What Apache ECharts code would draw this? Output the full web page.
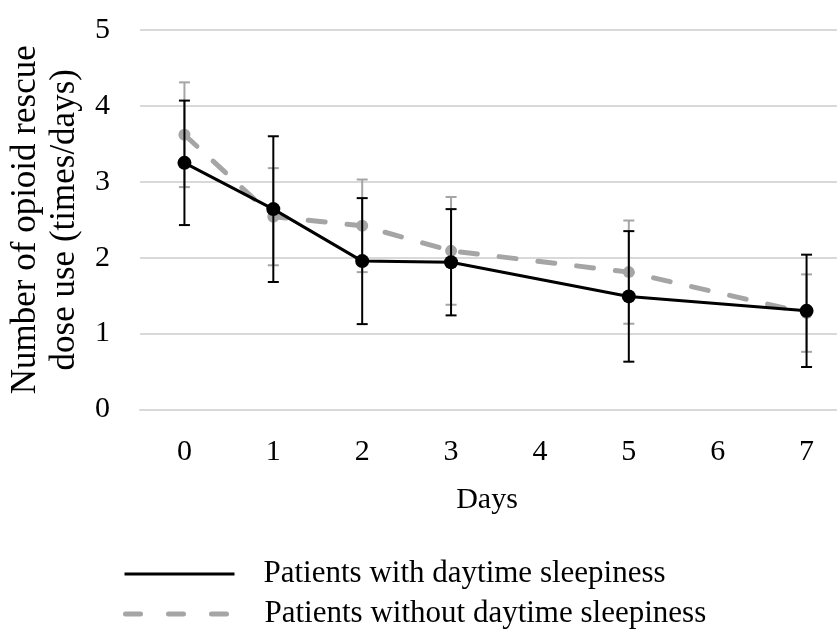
<!DOCTYPE html>
<html>
<head>
<meta charset="utf-8">
<script src="https://cdn.jsdelivr.net/npm/echarts@6/dist/echarts.min.js"></script>
<style>
  html, body { margin: 0; padding: 0; background: #fff; }
  #chart { width: 837px; height: 630px; }
</style>
</head>
<body>
<div id="chart"></div>
<script>
// Days on the x axis (4 and 6 have no measurement)
const days = ['0', '1', '2', '3', '4', '5', '6', '7'];
const yTicks = [0, 1, 2, 3, 4, 5];

// Mean rescue-dose use per day and its error (SD) for each group
const withSleepDays = [0, 1, 2, 3, 5, 7];
const withSleepMean = [3.25, 2.64, 1.955, 1.94, 1.49, 1.30];
const withSleepErr  = [0.82, 0.96, 0.83, 0.70, 0.86, 0.74];

const withoutSleepDays = [0, 1, 2, 3, 5, 7];
const withoutSleepMean = [3.62, 2.54, 2.42, 2.09, 1.81, 1.27];
const withoutSleepErr  = [0.69, 0.64, 0.61, 0.71, 0.68, 0.51];

const nameWith = 'Patients with daytime sleepiness';
const nameWithout = 'Patients without daytime sleepiness';

const FONT = '"Liberation Serif", "Times New Roman", serif';
const GRID = '#d9d9d9';
const BLACK = '#000000';
const GREY = '#a5a5a5';

function lineData(dayList, means) {
  const out = days.map(() => null);
  dayList.forEach((d, i) => { out[days.indexOf(String(d))] = means[i]; });
  return out;
}
function errData(dayList, means, errs) {
  return dayList.map((d, i) => [days.indexOf(String(d)), means[i] - errs[i], means[i] + errs[i]]);
}
function errRenderer(color, width, cap) {
  return function (params, api) {
    const x = api.value(0);
    const lo = api.coord([x, api.value(1)]);
    const hi = api.coord([x, api.value(2)]);
    const h = cap / 2;
    const style = { stroke: color, lineWidth: width };
    return {
      type: 'group',
      children: [
        { type: 'line', shape: { x1: lo[0], y1: lo[1], x2: hi[0], y2: hi[1] }, style },
        { type: 'line', shape: { x1: lo[0] - h, y1: lo[1], x2: lo[0] + h, y2: lo[1] }, style },
        { type: 'line', shape: { x1: hi[0] - h, y1: hi[1], x2: hi[0] + h, y2: hi[1] }, style }
      ]
    };
  };
}

const legendText = { fontFamily: FONT, fontSize: 31, color: '#000', lineHeight: 34, padding: [0, 0, 0, 24] };
function legendFor(name, top, lineStyle) {
  return {
    left: 118,
    top: top,
    itemWidth: 110,
    itemHeight: 20,
    data: [name],
    selectedMode: false,
    itemStyle: { opacity: 0 },
    lineStyle: lineStyle,
    textStyle: legendText
  };
}

const chart = echarts.init(document.getElementById('chart'), null, { renderer: 'canvas' });
chart.setOption({
  backgroundColor: '#fff',
  animation: false,
  textStyle: { fontFamily: FONT, color: '#000' },
  title: {
    text: 'Days',
    left: 482,
    top: 480,
    textAlign: 'center',
    textStyle: { fontFamily: FONT, fontSize: 30, fontWeight: 'normal', color: '#000' }
  },
  legend: [
    legendFor(nameWith, 552, { color: BLACK, width: 3, type: 'solid' }),
    legendFor(nameWithout, 592, { color: GREY, width: 5, type: [15, 28], cap: 'round' })
  ],
  grid: { left: 140, top: 30, width: 711, height: 379.5, outerBoundsMode: 'none', containLabel: false },
  xAxis: {
    type: 'category',
    data: days,
    boundaryGap: true,
    axisLine: { show: true, lineStyle: { color: GRID, width: 2 } },
    axisTick: { show: false },
    axisLabel: { fontFamily: FONT, fontSize: 30, color: '#000', margin: 28 },
    splitLine: { show: false }
  },
  yAxis: {
    type: 'value',
    min: yTicks[0],
    max: yTicks[yTicks.length - 1],
    interval: 1,
    name: 'Number of opioid rescue\ndose use (times/days)',
    nameLocation: 'middle',
    nameGap: 50,
    nameTextStyle: { fontFamily: FONT, fontSize: 35, color: '#000', lineHeight: 39 },
    axisLine: { show: false },
    axisTick: { show: false },
    axisLabel: { fontFamily: FONT, fontSize: 30, color: '#000', margin: 30 },
    splitLine: { lineStyle: { color: GRID, width: 2 } }
  },
  series: [
    {
      name: 'err-without',
      type: 'custom',
      renderItem: errRenderer(GREY, 2, 11),
      data: errData(withoutSleepDays, withoutSleepMean, withoutSleepErr),
      encode: { x: 0, y: [1, 2] },
      z: 1,
      silent: true
    },
    {
      name: nameWithout,
      type: 'line',
      data: lineData(withoutSleepDays, withoutSleepMean),
      connectNulls: true,
      symbol: 'circle',
      symbolSize: 12,
      itemStyle: { color: GREY },
      lineStyle: { color: GREY, width: 5, type: [17, 22], cap: 'round' },
      z: 2
    },
    {
      name: 'err-with',
      type: 'custom',
      renderItem: errRenderer(BLACK, 2, 11),
      data: errData(withSleepDays, withSleepMean, withSleepErr),
      encode: { x: 0, y: [1, 2] },
      z: 3,
      silent: true
    },
    {
      name: nameWith,
      type: 'line',
      data: lineData(withSleepDays, withSleepMean),
      connectNulls: true,
      symbol: 'circle',
      symbolSize: 14,
      itemStyle: { color: BLACK },
      lineStyle: { color: BLACK, width: 3 },
      z: 4
    }
  ]
});
</script>
</body>
</html>
